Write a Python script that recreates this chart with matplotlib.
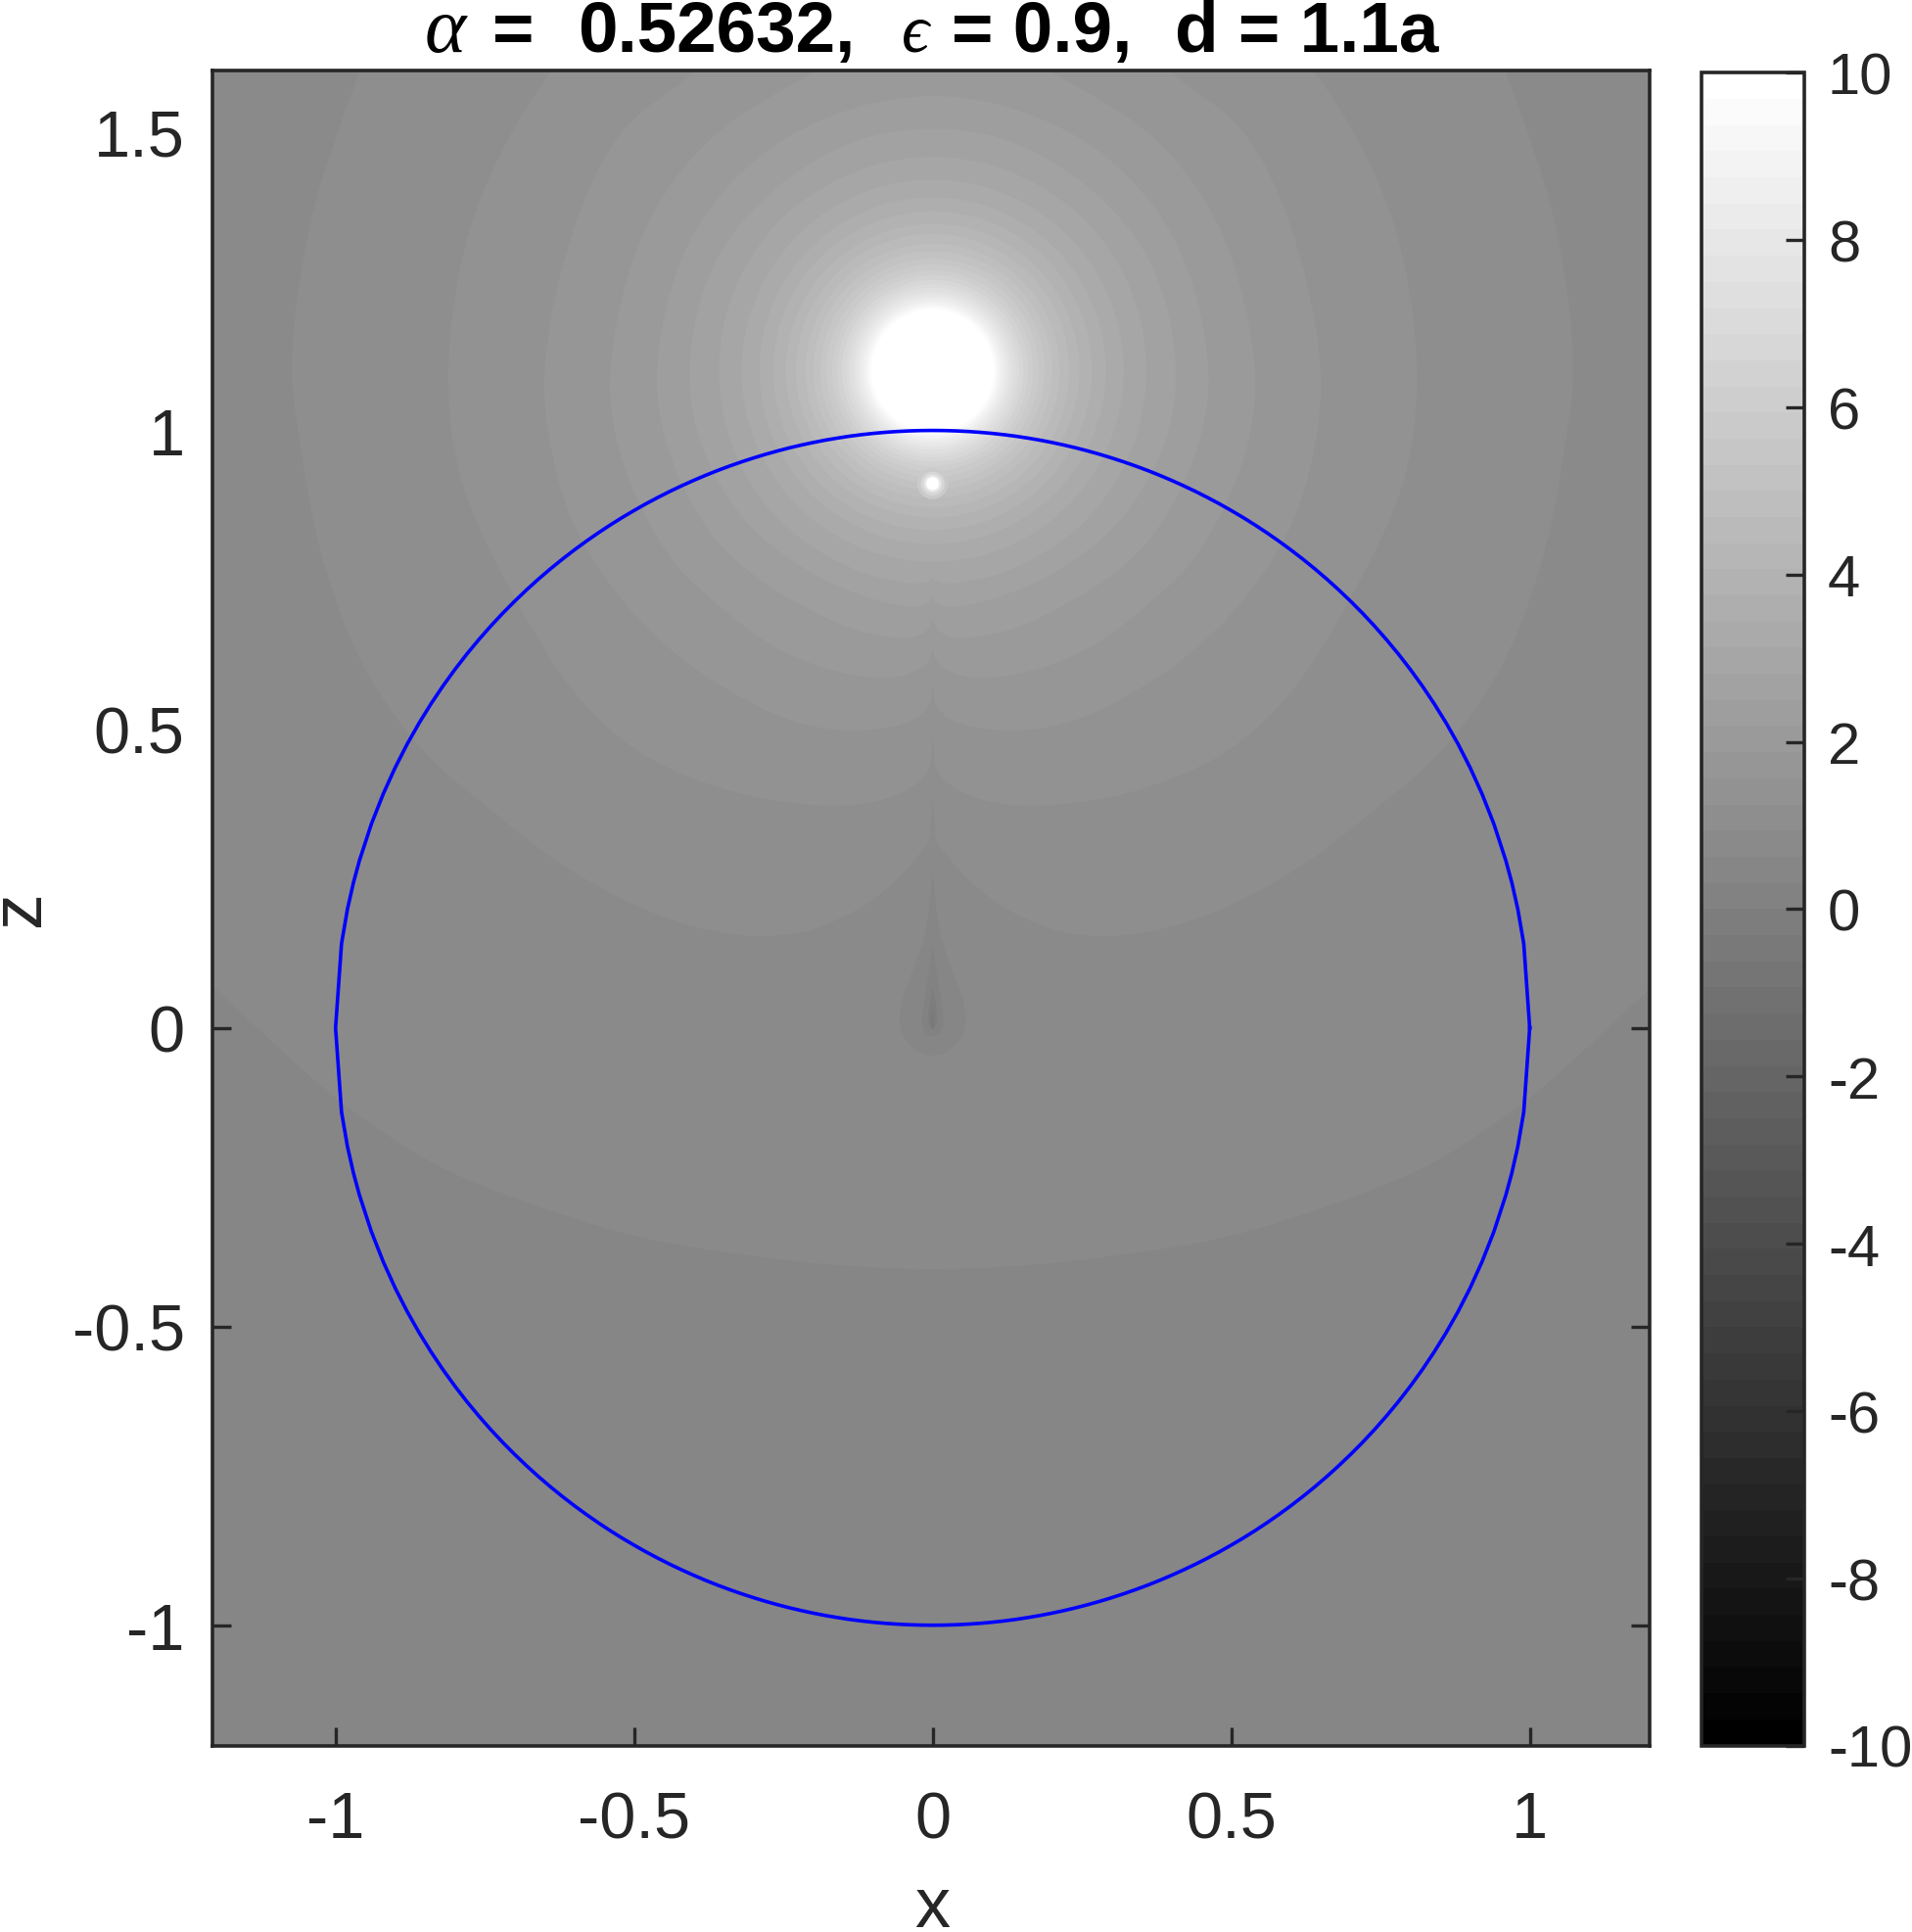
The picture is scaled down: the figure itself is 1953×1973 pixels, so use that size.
import matplotlib
matplotlib.use("Agg")
import matplotlib.pyplot as plt
from matplotlib.patches import Circle
from matplotlib.cm import ScalarMappable
from matplotlib.colors import Normalize
import numpy as np

plt.rcParams['font.family'] = ['Liberation Sans', 'DejaVu Sans']
plt.rcParams['axes.unicode_minus'] = False

W, H = 1953, 1974
INK = '#262626'

# Colour scale
clim = (-10, 10)
n_colors = 64
cbar_ticks = [-10, -8, -6, -4, -2, 0, 2, 4, 6, 8, 10]
cbar_labels = ['-10', '-8', '-6', '-4', '-2', '0', '2', '4', '6', '8', '10']
x_ticks = [-1, -0.5, 0, 0.5, 1]
x_labels = ['-1', '-0.5', '0', '0.5', '1']
z_ticks = [-1, -0.5, 0, 0.5, 1, 1.5]
z_labels = ['-1', '-0.5', '0', '0.5', '1', '1.5']

# Value of the band covering the lower part of the plot
background_value = 0.47

# Band boundaries, right half (x >= 0), mirrored when drawn.
level_0625_value = 0.78
level_0625_x = [0, .15, .30, .50, .734, .843, .99, 1.062, 1.2, 1.25, 1.25, 0]
level_0625_z = [-.404, -.398, -.382, -.348, -.272, -.223, -.125, -.064, .064, .11, 1.65, 1.65]

level_0938_value = 1.09
level_0938_x = [0, .90, .96, 1.03, 1.06, 1.073, 1.06, 1.02, .95, .854, .74, .603, .443, .311, .22, .16, .105, .05, .023, .0075, .003, 0]
level_0938_z = [1.75, 1.75, 1.6, 1.394, 1.25, 1.1, .98, .78, .60, .465, .365, .262, .183, .154, .16, .181, .211, .258, .29, .31, .34, .384]

level_1250_value = 1.41
level_1250_x = [0, .50, .639, .72, .78, .811, .79, .70, .59, .48, .333, .194, .1, .04, .0075, .002, 0]
level_1250_z = [1.75, 1.75, 1.6, 1.47, 1.32, 1.1, .92, .72, .55, .455, .395, .373, .378, .40, .43, .46, .493]

level_1563_value = 1.72
level_1563_x = [0, .25, .40, .52, .60, .65, .635, .595, .515, .425, .333, .223, .114, .033, .006, 0]
level_1563_z = [1.75, 1.75, 1.6, 1.5, 1.34, 1.1, .95, .83, .71, .622, .56, .51, .498, .515, .54, .57]

level_1875_value = 2.03
level_1875_x = [0, .10, .20, .37, .48, .54, .52, .443, .37, .26, .15, .0625, .015, .003, 0]
level_1875_z = [1.68, 1.66, 1.6, 1.49, 1.34, 1.1, .95, .793, .717, .635, .594, .587, .605, .62, .635]

level_2188_value = 2.34
level_2188_x = [0, .16, .30, .41, .462, .44, .37, .296, .186, .114, .033, .008, 0]
level_2188_z = [1.56, 1.53, 1.45, 1.31, 1.1, .96, .826, .755, .69, .662, .654, .667, .685]

level_2500_value = 2.66
level_2500_x = [0, .14, .28, .37, .407, .385, .31, .20, .10, .03, .006, 0]
level_2500_z = [1.505, 1.48, 1.39, 1.27, 1.1, .97, .845, .76, .718, .705, .712, .722]

level_2813_value = 2.97
level_2813_x = [0, .13, .25, .33, .358, .33, .25, .13, .03, .006, 0]
level_2813_z = [1.458, 1.433, 1.357, 1.24, 1.1, .96, .843, .767, .744, .748, .755]

# Nested teardrops around the origin, bottom to tip
drop1_value = 0.47
drop1_x = [0, .0185, .04, .053, .055, .05, .034, .015, .007, 0]
drop1_z = [-.046, -.043, -.026, -.004, .023, .05, .094, .149, .193, .258]
drop2_value = 0.16
drop2_x = [0, .01, .018, .015, .008, 0]
drop2_z = [-.013, -.01, .007, .039, .083, .138]
drop3_value = -0.16
drop3_x = [0, .006, .006, 0]
drop3_z = [-.002, .007, .034, .067]
drop4_value = -0.47
drop4_x = [0, .003, 0]
drop4_z = [-.002, .007, .029]

# Closed rings round the source, radius read per band
source_x, source_z = 0.0, 1.1
ring_values = [3.28, 3.59, 3.91, 4.22, 4.53, 4.84, 5.16, 5.47, 5.78, 6.09, 6.41,
               6.72, 7.03, 7.34, 7.66, 7.97, 8.28, 8.59, 8.91, 9.22, 9.53, 9.84]
ring_radii = [.32, .29, .267, .246, .229, .213, .2, .188, .178, .168, .16,
              .152, .145, .139, .133, .128, .123, .118, .114, .11, .107, .103]

# Bright dot below the source
dot_x, dot_z = 0.0, 0.911
dot_values = [5.9, 6.8, 8.0, 10.0]
dot_radii = [.026, .020, .015, .011]

# Sphere outline, first quadrant, mirrored when drawn
outline_x = [1, .99, .98, .97, .96, .94, .92, .90, .88, .86, .84, .82, .80, .78, .76, .74,
             .72, .70, .68, .66, .64, .62, .60, .58, .56, .54, .52, .50, .48, .46, .44, .42,
             .40, .38, .36, .34, .32, .30, .28, .26, .24, .22, .20, .18, .16, .14, .12, .10,
             .08, .06, .04, .02, 0]
outline_z = [0, .1411, .1990, .2431, .2800, .3412, .3919, .4359, .4750, .5103, .5426, .5724,
             .6, .6258, .6499, .6726, .6940, .7141, .7332, .7513, .7684, .7846, .8, .8146,
             .8285, .8417, .8542, .8660, .8773, .8879, .8980, .9075, .9165, .9250, .9330,
             .9404, .9474, .9539, .9600, .9656, .9708, .9755, .9798, .9837, .9871, .9902,
             .9928, .9950, .9968, .9982, .9992, .9998, 1]

cmap = plt.get_cmap('gray', n_colors)
norm = Normalize(*clim)

fig = plt.figure(figsize=(W / 100, H / 100), dpi=100, facecolor='white')


def axes_px(left, top, right, bottom):
    return fig.add_axes([left / W, 1 - bottom / H, (right - left) / W, (bottom - top) / H])


def rounded(xs, zs, sub=14):
    """Draw a band edge as a centripetal Catmull-Rom curve through the read points."""
    p = np.column_stack([xs, zs]).astype(float)
    first = np.array([[-p[1, 0], p[1, 1]]])      # mirror image of the neighbour
    last = (2 * p[-1] - p[-2])[None, :]
    q = np.vstack([first, p, last])
    out = [p[0]]
    for i in range(1, len(q) - 2):
        p0, p1, p2, p3 = q[i - 1], q[i], q[i + 1], q[i + 2]
        t0 = 0.0
        t1 = t0 + max(np.linalg.norm(p1 - p0), 1e-6) ** 0.5
        t2 = t1 + max(np.linalg.norm(p2 - p1), 1e-6) ** 0.5
        t3 = t2 + max(np.linalg.norm(p3 - p2), 1e-6) ** 0.5
        for t in np.linspace(t1, t2, sub + 1)[1:]:
            a1 = (t1 - t) / (t1 - t0) * p0 + (t - t0) / (t1 - t0) * p1
            a2 = (t2 - t) / (t2 - t1) * p1 + (t - t1) / (t2 - t1) * p2
            a3 = (t3 - t) / (t3 - t2) * p2 + (t - t2) / (t3 - t2) * p3
            b1 = (t2 - t) / (t2 - t0) * a1 + (t - t0) / (t2 - t0) * a2
            b2 = (t3 - t) / (t3 - t1) * a2 + (t - t1) / (t3 - t1) * a3
            out.append((t2 - t) / (t2 - t1) * b1 + (t - t1) / (t2 - t1) * b2)
    out = np.array(out)
    return np.maximum(out[:, 0], 0), out[:, 1]


ax = axes_px(216.5, 72.7, 1684.5, 1783.5)
ax.set_xlim(-1.207, 1.2)
ax.set_ylim(-1.2013, 1.603)
ax.set_facecolor(cmap(norm(background_value)))


def band(value, xs, zs, z=2):
    sx, sz = rounded(xs, zs)
    ax.fill(np.r_[sx, -sx[::-1]], np.r_[sz, sz[::-1]], color=cmap(norm(value)), lw=0, zorder=z)


band(level_0625_value, level_0625_x, level_0625_z)
band(level_0938_value, level_0938_x, level_0938_z)
band(level_1250_value, level_1250_x, level_1250_z)
band(level_1563_value, level_1563_x, level_1563_z)
band(level_1875_value, level_1875_x, level_1875_z)
band(level_2188_value, level_2188_x, level_2188_z)
band(level_2500_value, level_2500_x, level_2500_z)
band(level_2813_value, level_2813_x, level_2813_z)
band(drop1_value, drop1_x, drop1_z, 3)
band(drop2_value, drop2_x, drop2_z, 3)
band(drop3_value, drop3_x, drop3_z, 3)
band(drop4_value, drop4_x, drop4_z, 3)

for v, r in zip(ring_values, ring_radii):
    ax.add_patch(Circle((source_x, source_z), r, color=cmap(norm(v)), lw=0, zorder=4))
for v, r in zip(dot_values, dot_radii):
    ax.add_patch(Circle((dot_x, dot_z), r, color=cmap(norm(v)), lw=0, zorder=5))

ox = np.asarray(outline_x, float)
oz = np.asarray(outline_z, float)
ax.plot(np.r_[ox, -ox[::-1], -ox, ox[::-1]], np.r_[oz, oz[::-1], -oz, -oz[::-1]],
        color='#0000ff', lw=2.6, zorder=6, solid_joinstyle='round')

ax.set_xticks(x_ticks, x_labels)
ax.set_yticks(z_ticks, z_labels)
ax.tick_params(axis='both', which='major', direction='in', length=13.5, width=2.4,
               color=INK, labelcolor=INK, labelsize=48, top=True, right=True)
ax.tick_params(axis='x', pad=33)
ax.tick_params(axis='y', pad=20)
for s in ax.spines.values():
    s.set_linewidth(2.6)
    s.set_color(INK)
    s.set_zorder(8)

cax = axes_px(1737.7, 75.3, 1843.3, 1783.5)
cb = fig.colorbar(ScalarMappable(norm=norm, cmap=cmap), cax=cax, ticks=cbar_ticks)
cb.set_ticklabels(cbar_labels)
cb.ax.tick_params(direction='in', length=13.5, width=2.4, color=INK, labelcolor=INK,
                  labelsize=43, pad=17)
cb.outline.set_linewidth(2.6)
cb.outline.set_edgecolor(INK)

# Title
base = 1 - 52.7 / H
bold = dict(family=['Liberation Sans', 'DejaVu Sans'], weight='bold', size=52.5,
            color='black', va='baseline', ha='left')
serif = dict(family=['Liberation Serif', 'DejaVu Serif'], style='italic', size=58,
             color='black', va='baseline', ha='left')
fig.text(434 / W, base, '\u03b1', **serif)
fig.text(503 / W, base, '=', **bold)
fig.text(590 / W, base, '0.52632,', **bold)
fig.text(921 / W, base, '\u03f5', size=50, family=serif['family'], style='italic',
         color='black', va='baseline', ha='left')
fig.text(972 / W, base, '= 0.9,', **bold)
fig.text(1200 / W, base, 'd = 1.1a', **bold)

fig.text(952.4 / W, 1 - 1968 / H, 'x', ha='center', va='baseline', size=52, color=INK)
fig.text(-14 / W, 1 - 928 / H, 'z', ha='left', va='center', rotation=90, size=53, color=INK)

fig.savefig('out.png', dpi=100, facecolor='white')
